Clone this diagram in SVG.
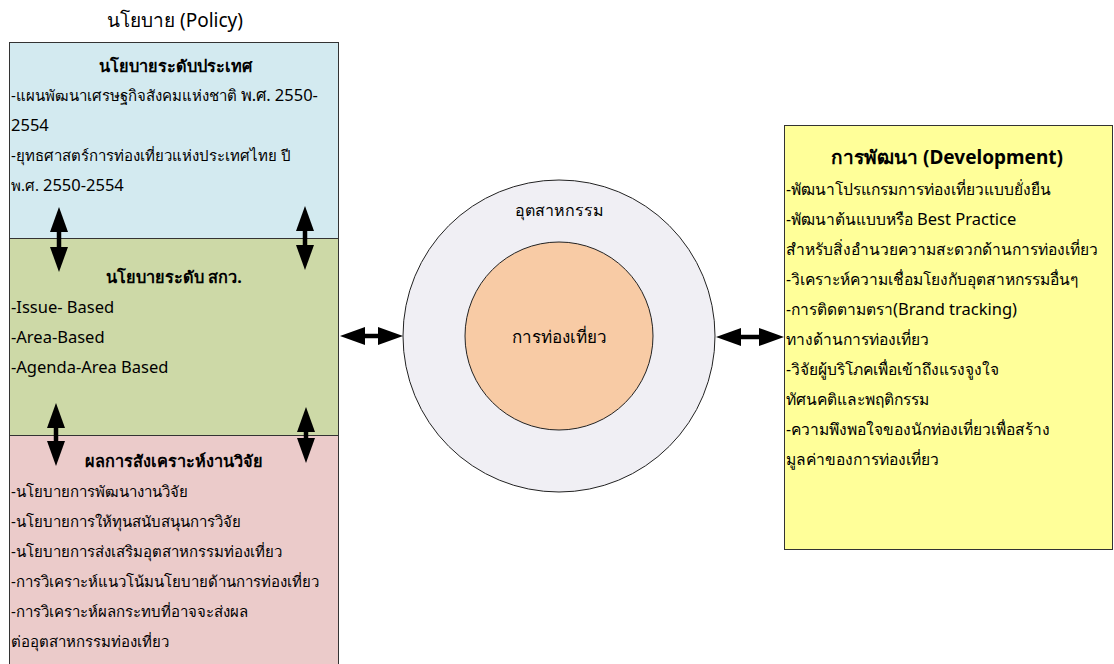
<svg xmlns="http://www.w3.org/2000/svg" width="1114" height="664" viewBox="0 0 1114 664">
  <style>
    text { font-family: "Noto Sans", "DejaVu Sans", sans-serif; fill: #000; }
    .t { font-size: 15px; }
    .r { font-size: 15.6px; }
    .l { font-size: 16.5px; }
    .h { font-size: 16.3px; font-weight: bold; text-anchor: middle; }
    .box { stroke: #333; stroke-width: 1; }
    .arr { stroke: #000; stroke-width: 4.5; fill: none; marker-start: url(#ah); marker-end: url(#ah); }
  </style>
  <defs>
    <marker id="ah" viewBox="0 0 25 18" refX="6" refY="9" markerWidth="25" markerHeight="18" orient="auto-start-reverse" markerUnits="userSpaceOnUse">
      <path d="M0,0 L25,9 L0,18 Z" fill="#000"/>
    </marker>
  </defs>
  <rect width="1114" height="664" fill="#fff"/>

  <text x="175" y="27" style="font-size:19px;text-anchor:middle">นโยบาย (Policy)</text>

  <!-- national policy -->
  <g id="national">
    <rect class="box" x="9.5" y="42.5" width="329" height="196" fill="#d3eaf0"/>
    <text class="h" x="175" y="72">นโยบายระดับประเทศ</text>
    <text class="t" x="11" y="101">-แผนพัฒนาเศรษฐกิจสังคมแห่งชาติ <tspan class="l">พ.ศ. 2550-</tspan></text>
    <text class="l" x="11" y="131">2554</text>
    <text class="t" x="11" y="161">-ยุทธศาสตร์การท่องเที่ยวแห่งประเทศไทย ปี</text>
    <text class="t" x="11" y="191">พ.ศ. <tspan class="l">2550-2554</tspan></text>
  </g>

  <!-- TRF policy -->
  <g id="trf">
    <rect class="box" x="9.5" y="238.5" width="329" height="197" fill="#cdd9a7"/>
    <text class="h" x="174" y="283">นโยบายระดับ สกว.</text>
    <text class="l" x="11" y="313">-Issue- Based</text>
    <text class="l" x="11" y="343">-Area-Based</text>
    <text class="l" x="11" y="373">-Agenda-Area Based</text>
  </g>

  <!-- research synthesis -->
  <g id="synthesis">
    <rect class="box" x="9.5" y="435.5" width="329" height="232" fill="#ebcbca"/>
    <text class="h" x="174" y="467">ผลการสังเคราะห์งานวิจัย</text>
    <text class="t" x="11" y="497">-นโยบายการพัฒนางานวิจัย</text>
    <text class="t" x="11" y="527">-นโยบายการให้ทุนสนับสนุนการวิจัย</text>
    <text class="t" x="11" y="557">-นโยบายการส่งเสริมอุตสาหกรรมท่องเที่ยว</text>
    <text class="t" x="11" y="587">-การวิเคราะห์แนวโน้มนโยบายด้านการท่องเที่ยว</text>
    <text class="t" x="11" y="617">-การวิเคราะห์ผลกระทบที่อาจจะส่งผล</text>
    <text class="t" x="11" y="647">ต่ออุตสาหกรรมท่องเที่ยว</text>
  </g>

  <!-- industry / tourism -->
  <g id="industry">
    <circle cx="559" cy="336" r="156" fill="#f0eff4" stroke="#222" stroke-width="1"/>
    <text x="559" y="216" style="font-size:16px;text-anchor:middle">อุตสาหกรรม</text>
  </g>
  <g id="tourism">
    <circle cx="559" cy="336" r="94" fill="#f8cba5" stroke="#222" stroke-width="1"/>
    <text x="559" y="343" style="font-size:17px;text-anchor:middle">การท่องเที่ยว</text>
  </g>

  <!-- development -->
  <g id="development">
    <clipPath id="devclip"><rect x="784" y="125" width="329" height="425"/></clipPath>
    <rect class="box" x="784.5" y="125.5" width="328" height="424" fill="#ffff99"/>
    <text class="h" x="947" y="164" style="font-size:19px">การพัฒนา (Development)</text>
    <g clip-path="url(#devclip)">
      <text class="r" x="786" y="195">-พัฒนาโปรแกรมการท่องเที่ยวแบบยั่งยืน</text>
      <text class="r" x="786" y="225">-พัฒนาต้นแบบหรือ <tspan class="l">Best Practice</tspan></text>
      <text class="r" x="786" y="255">สำหรับสิ่งอำนวยความสะดวกด้านการท่องเที่ยว</text>
      <text class="r" x="786" y="285">-วิเคราะห์ความเชื่อมโยงกับอุตสาหกรรมอื่นๆ</text>
      <text class="r" x="786" y="315">-การติดตามตรา<tspan class="l">(Brand tracking)</tspan></text>
      <text class="r" x="786" y="345">ทางด้านการท่องเที่ยว</text>
      <text class="r" x="786" y="375">-วิจัยผู้บริโภคเพื่อเข้าถึงแรงจูงใจ</text>
      <text class="r" x="786" y="405">ทัศนคติและพฤติกรรม</text>
      <text class="r" x="786" y="435">-ความพึงพอใจของนักท่องเที่ยวเพื่อสร้าง</text>
      <text class="r" x="786" y="465">มูลค่าของการท่องเที่ยว</text>
    </g>
  </g>

  <!-- connectors: double-headed arrows, endpoints set back from the tips -->
  <g id="connectors">
    <line class="arr" x1="59" y1="226" x2="59" y2="253"/>
    <line class="arr" x1="305" y1="225" x2="305" y2="251"/>
    <line class="arr" x1="56" y1="422" x2="56" y2="447"/>
    <line class="arr" x1="306" y1="426" x2="306" y2="444"/>
    <line class="arr" x1="359" y1="336" x2="384" y2="336"/>
    <line class="arr" x1="735" y1="337" x2="765" y2="337"/>
  </g>
</svg>
